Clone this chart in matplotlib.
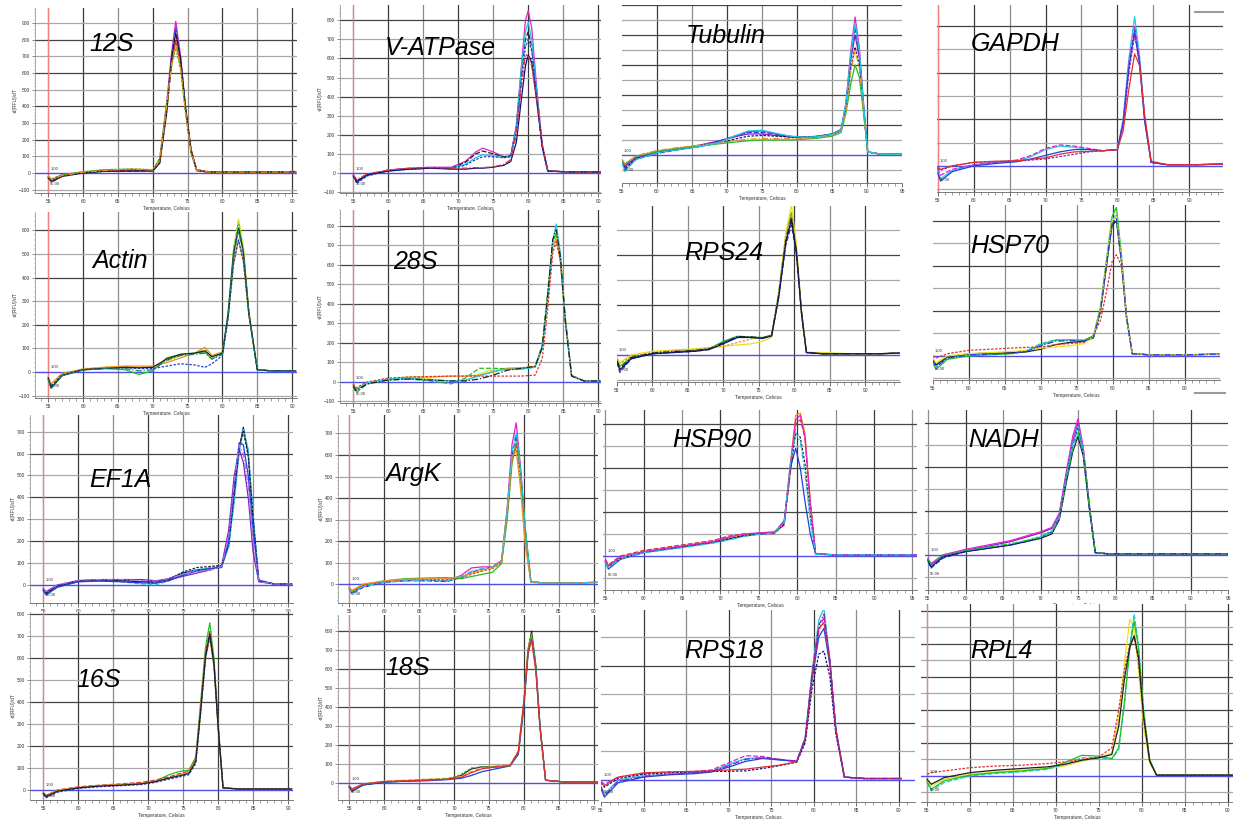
import matplotlib
matplotlib.use('Agg')
import matplotlib.pyplot as plt
from matplotlib.lines import Line2D
from matplotlib.ticker import MultipleLocator

plt.rcParams['font.family'] = ['Liberation Sans', 'DejaVu Sans']

# ---------------- data (-dF/dT vs temperature) ----------------
s12_temp = [55, 55.5, 57, 60, 63, 67, 70, 71, 72, 72.7, 73.3, 74, 74.7, 75.5, 76.3, 78, 82, 86, 90.5]
s12_curves = [
    [-20, -40, -10, 5, 15, 15, 15, 80, 420, 720, 910, 700, 380, 120, 15, 5, 5, 5, 8],
    [-30, -55, -20, 0, 10, 10, 12, 60, 380, 700, 870, 690, 390, 130, 20, 5, 5, 5, 8],
    [-25, -45, -15, 5, 18, 20, 18, 70, 400, 650, 790, 640, 380, 140, 20, 8, 5, 5, 8],
    [-20, -35, -10, 8, 20, 25, 20, 90, 420, 640, 750, 620, 360, 120, 15, 5, 5, 5, 10],
    [-30, -50, -20, 0, 10, 12, 12, 60, 360, 680, 840, 680, 400, 140, 15, 5, 5, 5, 8],
    [-20, -40, -15, 5, 15, 25, 18, 75, 400, 650, 770, 630, 370, 130, 18, 5, 5, 5, 8],
]

vat_temp = [55, 55.5, 57, 60, 63, 66, 69, 71, 72.5, 73.5, 75, 76.5, 77.5, 78.3, 79, 79.6, 80, 80.5, 81.2, 82, 82.8, 86, 90.5]
vat_curves = [
    [-10, -50, -10, 15, 25, 30, 30, 60, 110, 130, 110, 85, 90, 250, 550, 800, 850, 760, 450, 150, 10, 5, 5],
    [-15, -40, -10, 15, 22, 25, 25, 55, 100, 115, 100, 85, 90, 240, 520, 700, 740, 660, 420, 140, 10, 5, 5],
    [-20, -45, -15, 15, 20, 25, 25, 45, 80, 95, 90, 80, 85, 240, 540, 740, 790, 700, 430, 140, 10, 5, 5],
    [-20, -55, -15, 10, 20, 25, 25, 40, 70, 85, 85, 80, 85, 220, 480, 660, 700, 640, 400, 130, 10, 5, 5],
    [-15, -45, -10, 10, 20, 25, 20, 20, 25, 25, 30, 40, 60, 160, 380, 560, 620, 580, 380, 140, 10, 5, 5],
    [-10, -35, -5, 15, 25, 28, 25, 25, 28, 28, 32, 45, 70, 200, 450, 620, 610, 560, 390, 150, 12, 5, 5],
]

tub_temp = [55, 55.4, 57, 60, 63, 66, 69, 71, 73, 75, 77, 79, 81, 83, 85, 86.3, 87, 87.7, 88.3, 88.9, 89.5, 90.1, 92, 95]
tub_curves = [
    [-40, -80, -20, 20, 40, 60, 90, 120, 155, 160, 140, 120, 115, 120, 135, 160, 350, 700, 920, 720, 350, 20, 5, 5],
    [-50, -100, -30, 10, 35, 60, 95, 125, 150, 150, 140, 125, 120, 125, 140, 170, 340, 660, 850, 680, 330, 20, 5, 5],
    [-40, -70, -20, 15, 40, 65, 95, 120, 140, 140, 130, 120, 118, 125, 140, 170, 330, 640, 800, 650, 320, 20, 5, 5],
    [-45, -90, -25, 15, 35, 55, 80, 105, 125, 130, 125, 120, 118, 122, 138, 165, 320, 580, 720, 600, 300, 20, 5, 5],
    [-30, -60, -10, 25, 45, 60, 75, 85, 95, 100, 100, 100, 105, 112, 125, 150, 280, 480, 600, 520, 280, 20, 5, 5],
    [-30, -60, -5, 30, 50, 65, 80, 95, 105, 110, 110, 108, 110, 118, 132, 160, 300, 560, 700, 580, 300, 20, 5, 5],
    [-50, -110, -30, 15, 35, 55, 85, 125, 160, 165, 145, 125, 118, 122, 138, 170, 350, 680, 880, 700, 340, 20, 5, 5],
]

gapdh_temp = [55, 55.4, 57, 60, 63, 66, 68, 70, 72, 74, 76, 78, 80, 80.8, 81.6, 82.4, 83.1, 83.8, 84.7, 87, 91, 94.7]
gapdh_curves = [
    [-20, -55, -20, 5, 15, 20, 40, 70, 85, 80, 70, 65, 70, 200, 460, 640, 470, 200, 15, 5, 5, 8],
    [-10, -40, -15, 5, 15, 25, 45, 75, 90, 85, 75, 65, 70, 190, 440, 600, 450, 200, 15, 5, 5, 8],
    [-30, -65, -25, 0, 10, 18, 30, 45, 60, 70, 70, 65, 70, 180, 420, 580, 430, 190, 15, 5, 5, 8],
    [-10, -20, 0, 15, 18, 20, 25, 30, 40, 50, 60, 65, 70, 170, 400, 560, 440, 200, 15, 5, 5, 8],
    [-5, -15, 0, 15, 20, 22, 28, 35, 50, 60, 62, 65, 70, 150, 330, 480, 430, 220, 20, 5, 5, 8],
]

actin_temp = [55, 55.4, 57, 60, 63, 66, 68, 70, 72, 74, 76, 77.5, 78.5, 80, 80.8, 81.6, 82.3, 83, 83.8, 85, 87, 90.5]
actin_curves = [
    [-30, -70, -15, 10, 15, 10, -10, 5, 60, 75, 80, 85, 55, 80, 250, 520, 640, 520, 250, 10, 5, 5],
    [-25, -60, -10, 15, 20, 25, 20, 20, 45, 70, 80, 95, 60, 80, 240, 500, 650, 540, 260, 10, 5, 5],
    [-20, -50, -5, 12, 20, 25, 25, 25, 40, 60, 80, 105, 70, 85, 230, 460, 560, 470, 240, 10, 5, 5],
    [-30, -60, -10, 10, 15, 18, 15, 15, 25, 35, 30, 20, 35, 70, 220, 460, 560, 470, 240, 10, 5, 5],
    [-25, -65, -15, 10, 15, 20, 18, 20, 55, 75, 80, 90, 65, 80, 240, 500, 610, 510, 250, 10, 5, 5],
    [-30, -70, -15, 8, 15, 15, 5, 10, 50, 70, 75, 80, 55, 75, 235, 490, 600, 500, 245, 10, 5, 5],
]

s28_temp = [55, 55.4, 57, 60, 63, 66, 69, 71, 73, 75, 77, 79, 81, 82, 82.8, 83.5, 84, 84.6, 85.3, 86.2, 88, 90.5]
s28_curves = [
    [-15, -35, -5, 15, 20, 15, 5, 5, 40, 65, 70, 70, 80, 180, 450, 720, 800, 650, 330, 30, 5, 5],
    [-25, -55, -10, 10, 15, 5, -10, 20, 70, 70, 68, 70, 80, 190, 470, 720, 760, 620, 310, 30, 5, 5],
    [-15, -40, -5, 15, 25, 25, 30, 30, 35, 50, 70, 72, 80, 175, 430, 690, 740, 620, 320, 30, 5, 5],
    [-10, -30, 0, 20, 25, 28, 30, 30, 30, 30, 30, 30, 35, 120, 380, 660, 720, 620, 330, 35, 5, 5],
    [-20, -40, -5, 15, 20, 10, 5, 10, 30, 55, 65, 65, 75, 170, 440, 720, 810, 660, 320, 30, 5, 5],
    [-20, -45, -10, 10, 15, 10, 5, 5, 15, 35, 60, 70, 80, 180, 450, 730, 780, 640, 310, 30, 5, 5],
]

rps24_temp = [55, 55.4, 57, 60, 63, 66, 68, 70, 72, 74, 75.5, 76.8, 77.8, 78.8, 79.6, 80.3, 81, 81.7, 84, 88, 92, 95]
rps24_curves = [
    [-20, -45, -10, 5, 12, 18, 25, 55, 75, 72, 70, 80, 250, 480, 570, 420, 180, 10, 5, 5, 5, 8],
    [-30, -70, -15, 5, 10, 15, 22, 50, 72, 70, 68, 78, 230, 440, 520, 400, 170, 10, 5, 5, 5, 8],
    [-10, -30, 0, 15, 20, 25, 30, 35, 40, 45, 55, 70, 240, 490, 600, 440, 180, 10, 10, 5, 5, 8],
    [-15, -35, -5, 10, 18, 22, 28, 35, 50, 65, 68, 78, 240, 470, 560, 420, 175, 12, 5, 5, 5, 8],
    [-25, -60, -15, 5, 10, 15, 22, 45, 70, 70, 66, 76, 230, 450, 540, 410, 170, 10, 5, 5, 5, 8],
    [-25, -55, -10, 8, 14, 18, 25, 48, 74, 72, 68, 78, 240, 460, 550, 415, 175, 10, 5, 5, 5, 8],
]

hsp70_temp = [55, 55.4, 57, 60, 63, 66, 68, 70, 72, 74, 76, 77.3, 78.3, 79.2, 79.9, 80.5, 81.2, 81.9, 82.7, 85, 90, 95]
hsp70_curves = [
    [-30, -60, -15, 0, 5, 10, 20, 50, 70, 72, 70, 90, 220, 450, 620, 660, 450, 180, 10, 5, 5, 8],
    [-20, -45, -10, 5, 10, 15, 25, 55, 72, 72, 68, 85, 210, 430, 600, 630, 430, 170, 10, 5, 5, 8],
    [-15, -40, -5, 10, 12, 15, 18, 30, 50, 60, 65, 80, 200, 420, 580, 600, 420, 170, 10, 5, 5, 8],
    [0, -10, 10, 25, 30, 35, 38, 40, 50, 55, 60, 90, 160, 300, 420, 450, 400, 180, 12, 5, 5, 8],
    [-10, -30, 0, 10, 15, 20, 25, 35, 40, 45, 55, 85, 210, 440, 600, 620, 430, 170, 10, 5, 5, 8],
    [-20, -50, -10, 5, 8, 12, 20, 45, 65, 68, 66, 82, 205, 430, 590, 610, 420, 170, 10, 5, 5, 8],
]

ef1a_temp = [55, 55.4, 57, 60, 63, 66, 69, 71, 73, 75, 77, 79, 80.5, 81.5, 82.3, 83, 83.6, 84.3, 85, 85.8, 88, 90.5]
ef1a_curves = [
    [-20, -40, -5, 20, 22, 20, 15, 15, 30, 55, 70, 75, 85, 180, 400, 620, 720, 600, 300, 20, 5, 5],
    [-25, -45, -10, 15, 20, 15, 5, 0, 20, 50, 70, 80, 85, 170, 380, 600, 710, 620, 320, 25, 5, 5],
    [-15, -30, 0, 20, 25, 25, 25, 20, 25, 40, 55, 70, 90, 250, 500, 620, 560, 400, 150, 15, 5, 5],
    [-20, -35, -5, 18, 20, 20, 15, 10, 25, 60, 80, 85, 90, 190, 420, 630, 700, 590, 300, 20, 5, 5],
    [-25, -45, -10, 15, 18, 15, 10, 8, 20, 45, 65, 75, 80, 200, 450, 650, 640, 500, 250, 20, 5, 5],
    [-15, -30, 0, 22, 25, 25, 20, 18, 30, 50, 60, 70, 85, 220, 470, 640, 600, 450, 200, 15, 5, 5],
]

argk_temp = [55, 55.4, 57, 60, 63, 66, 69, 71, 72.5, 74, 75.5, 76.8, 77.6, 78.3, 78.9, 79.5, 80.2, 81, 83, 87, 90.5]
argk_curves = [
    [-20, -40, -10, 10, 18, 18, 15, 40, 75, 80, 80, 110, 350, 650, 750, 550, 250, 10, 5, 5, 8],
    [-25, -45, -15, 8, 15, 15, 12, 30, 55, 70, 78, 105, 330, 600, 690, 520, 240, 10, 5, 5, 8],
    [-15, -35, -5, 15, 25, 28, 30, 25, 35, 45, 55, 95, 300, 560, 660, 540, 260, 12, 5, 5, 8],
    [-20, -35, -5, 12, 20, 22, 20, 30, 45, 60, 72, 100, 320, 580, 640, 480, 200, 8, 5, 5, 8],
    [-15, -30, 0, 15, 22, 25, 25, 35, 50, 65, 75, 105, 340, 590, 620, 450, 180, 8, 5, 5, 8],
    [-25, -40, -10, 10, 15, 18, 15, 35, 60, 72, 80, 110, 340, 620, 710, 540, 250, 10, 5, 5, 8],
]

hsp90_temp = [55, 55.4, 57, 60, 63, 66, 69, 71, 73, 75, 77, 78.3, 79.1, 79.8, 80.4, 81, 81.7, 82.4, 85, 90, 95.5]
hsp90_curves = [
    [-20, -45, -5, 20, 35, 50, 65, 80, 95, 105, 110, 150, 420, 640, 650, 560, 250, 10, 5, 5, 5],
    [-15, -40, 0, 25, 40, 55, 70, 90, 100, 100, 105, 140, 380, 600, 620, 540, 240, 10, 5, 5, 5],
    [-30, -60, -15, 15, 30, 45, 60, 75, 90, 100, 105, 160, 400, 490, 400, 250, 100, 8, 5, 5, 5],
    [-25, -50, -10, 18, 32, 48, 62, 78, 92, 100, 102, 145, 390, 560, 540, 420, 180, 8, 5, 5, 5],
    [-20, -45, -5, 20, 35, 50, 65, 85, 100, 105, 108, 150, 410, 620, 640, 540, 240, 10, 5, 5, 5],
    [-30, -55, -10, 15, 28, 42, 58, 72, 88, 98, 104, 155, 420, 560, 520, 380, 160, 8, 5, 5, 5],
]

nadh_temp = [55, 55.4, 57, 60, 63, 66, 68, 70, 71.5, 72.5, 73.5, 74.3, 75, 75.7, 76.5, 77.3, 79, 85, 90, 95]
nadh_curves = [
    [-20, -45, -5, 20, 40, 60, 80, 100, 120, 180, 380, 520, 600, 480, 230, 10, 5, 5, 5, 5],
    [-30, -60, -15, 15, 30, 45, 60, 80, 105, 170, 360, 500, 580, 470, 220, 10, 5, 5, 5, 5],
    [-15, -40, 0, 25, 45, 65, 85, 105, 125, 190, 390, 540, 620, 490, 230, 10, 5, 5, 5, 5],
    [-25, -50, -10, 18, 35, 50, 65, 85, 110, 175, 370, 510, 590, 480, 225, 10, 5, 5, 5, 5],
    [-25, -55, -10, 15, 30, 45, 60, 75, 95, 160, 340, 470, 540, 450, 215, 10, 5, 5, 5, 5],
    [-20, -40, 0, 20, 35, 50, 65, 80, 100, 165, 350, 480, 560, 460, 220, 10, 5, 5, 5, 5],
]

s16_temp = [55, 55.4, 57, 60, 63, 66, 69, 71, 73, 74.5, 75.8, 76.8, 77.5, 78.2, 78.8, 79.4, 80, 80.7, 83, 87, 90.5]
s16_curves = [
    [-15, -30, -5, 10, 20, 25, 30, 40, 70, 85, 90, 150, 400, 650, 760, 600, 300, 10, 5, 5, 5],
    [-10, -25, 0, 15, 22, 28, 35, 45, 60, 75, 85, 140, 380, 620, 720, 580, 290, 10, 5, 5, 5],
    [-10, -25, 0, 12, 20, 25, 30, 40, 55, 70, 80, 135, 370, 600, 690, 560, 280, 10, 5, 5, 5],
    [-20, -35, -10, 8, 15, 20, 25, 35, 50, 60, 70, 120, 350, 600, 700, 570, 290, 10, 5, 5, 5],
    [-15, -30, -5, 10, 18, 22, 28, 38, 55, 65, 75, 130, 360, 610, 710, 575, 285, 10, 5, 5, 5],
]

s18_temp = [55, 55.4, 57, 60, 63, 66, 69, 71, 72.5, 74, 76, 78, 79.2, 80, 80.6, 81.1, 81.7, 82.3, 83.1, 86, 90.5]
s18_curves = [
    [-20, -40, -10, 5, 10, 15, 20, 40, 75, 85, 85, 90, 160, 420, 700, 800, 620, 300, 15, 5, 5],
    [-15, -35, -5, 10, 15, 20, 25, 35, 60, 80, 90, 95, 170, 440, 720, 780, 600, 290, 15, 5, 5],
    [-20, -45, -10, 5, 10, 12, 18, 25, 40, 60, 75, 90, 150, 400, 680, 760, 610, 300, 15, 5, 5],
    [-15, -35, -5, 8, 12, 18, 22, 45, 80, 85, 85, 90, 160, 420, 700, 790, 620, 300, 15, 5, 5],
    [-15, -30, -5, 8, 12, 15, 20, 30, 55, 75, 85, 92, 165, 430, 690, 750, 590, 290, 15, 5, 5],
]

rps18_temp = [55, 55.4, 57, 60, 63, 66, 68, 70, 72, 74, 76, 78, 79, 79.8, 80.6, 81.2, 81.9, 82.6, 83.6, 86, 90.3]
rps18_curves = [
    [-20, -50, 0, 15, 20, 25, 30, 55, 75, 78, 70, 65, 150, 380, 560, 600, 420, 180, 10, 5, 5],
    [-5, -15, 10, 22, 28, 30, 35, 60, 85, 82, 72, 65, 140, 360, 520, 570, 420, 180, 10, 5, 5],
    [-30, -60, -10, 10, 18, 22, 28, 45, 65, 75, 70, 65, 140, 350, 500, 530, 400, 170, 10, 5, 5],
    [-10, -25, 5, 20, 25, 28, 30, 30, 32, 40, 50, 62, 130, 320, 440, 450, 360, 160, 10, 5, 5],
    [-10, -20, 10, 25, 28, 30, 32, 35, 38, 45, 52, 64, 145, 360, 530, 550, 410, 175, 10, 5, 5],
    [-25, -55, -5, 12, 20, 25, 30, 50, 72, 78, 72, 66, 145, 370, 540, 580, 415, 175, 10, 5, 5],
]

rpl4_temp = [55, 55.5, 57, 60, 63, 66, 69, 71, 73, 75, 76.5, 77.3, 78, 78.6, 79.1, 79.6, 80.2, 80.9, 81.7, 84, 90.6]
rpl4_curves = [
    [-30, -60, -20, 10, 25, 35, 45, 60, 90, 110, 140, 350, 700, 950, 900, 650, 300, 80, 5, 5, 5],
    [-40, -90, -40, 0, 15, 25, 40, 70, 110, 110, 100, 160, 450, 800, 980, 800, 400, 100, 5, 5, 5],
    [-35, -80, -30, 5, 20, 30, 45, 80, 125, 120, 105, 170, 460, 780, 940, 780, 390, 100, 5, 5, 5],
    [10, 20, 30, 50, 60, 65, 75, 85, 100, 115, 170, 400, 650, 800, 840, 700, 350, 90, 5, 5, 5],
    [-20, -50, -10, 20, 35, 45, 55, 70, 95, 110, 130, 300, 600, 780, 850, 720, 360, 90, 5, 5, 5],
]

# ---------------- layout (pixel boxes in the 1233x822 image) ----------------
W, H = 1233, 822
fig = plt.figure(figsize=(W / 100, H / 100), dpi=100)
fig.patch.set_facecolor('white')

MAG, BLU, RED, GRN, BLK, ORG, CYN, PUR, NAV, YEL, TEAL, VIO = (
    '#e020d0', '#2040e0', '#e03030', '#20c020', '#202020', '#f09020',
    '#20c8e0', '#8020c0', '#101080', '#e8e020', '#108080', '#b070e0')

# name, temp, curves, colours, box(x0,y0,x1,y1), xlim, ylim, label centre, y-axis shown, red 55 line
panels = [
    ('12S', s12_temp, s12_curves, [MAG, BLU, RED, GRN, BLK, ORG],
     (35, 8, 297, 193), (53.1, 90.7), (-120, 990), (112, 44), True, True),
    ('V-ATPase', vat_temp, vat_curves, [MAG, BLK, CYN, BLU, NAV, RED],
     (340, 5, 601, 193), (53.1, 90.4), (-105, 880), (440, 48), True, True),
    ('Tubulin', tub_temp, tub_curves, [MAG, BLU, PUR, NAV, GRN, ORG, CYN],
     (622, 5, 902, 183), (55, 95), (-187, 1000), (726, 36), False, False),
    ('GAPDH', gapdh_temp, gapdh_curves, [CYN, MAG, BLU, PUR, RED],
     (937, 5, 1223, 192), (54.9, 94.7), (-112, 690), (1015, 44), False, True),
    ('Actin', actin_temp, actin_curves, [GRN, YEL, ORG, BLU, BLK, TEAL],
     (35, 212, 297, 398), (53.1, 90.7), (-110, 678), (120, 261), True, True),
    ('28S', s28_temp, s28_curves, [YEL, GRN, ORG, RED, CYN, BLK],
     (340, 210, 601, 403), (53.1, 90.4), (-108, 882), (415, 262), True, True),
    ('RPS24', rps24_temp, rps24_curves, [GRN, BLU, YEL, ORG, NAV, BLK],
     (617, 206, 900, 382), (55, 94.9), (-108, 596), (724, 253), False, False),
    ('HSP70', hsp70_temp, hsp70_curves, [GRN, CYN, BLK, RED, YEL, BLU],
     (933, 205, 1220, 380), (55, 94.9), (-107, 671), (1010, 246), False, False),
    ('EF1A', ef1a_temp, ef1a_curves, [NAV, CYN, PUR, BLK, BLU, VIO],
     (30, 415, 293, 603), (53.1, 90.7), (-82, 776), (120, 480), True, True),
    ('ArgK', argk_temp, argk_curves, [MAG, BLU, GRN, RED, ORG, CYN],
     (338, 415, 598, 603), (53.4, 90.6), (-88, 786), (413, 474), True, True),
    ('HSP90', hsp90_temp, hsp90_curves, [ORG, RED, BLU, BLK, MAG, CYN],
     (603, 410, 917, 590), (54.7, 95.6), (-155, 664), (712, 440), False, False),
    ('NADH', nadh_temp, nadh_curves, [PUR, BLU, MAG, CYN, NAV, GRN],
     (925, 410, 1228, 590), (54.6, 95), (-160, 660), (1004, 440), False, False),
    ('16S', s16_temp, s16_curves, [GRN, RED, ORG, BLU, BLK],
     (30, 612, 293, 800), (53.1, 90.7), (-45, 809), (99, 680), True, True),
    ('18S', s18_temp, s18_curves, [BLK, ORG, BLU, GRN, RED],
     (338, 615, 598, 800), (53.4, 90.6), (-89, 884), (408, 668), True, True),
    ('RPS18', rps18_temp, rps18_curves, [CYN, MAG, BLU, NAV, RED, PUR],
     (601, 610, 915, 802), (55, 91.9), (-77, 594), (724, 651), False, False),
    ('RPL4', rpl4_temp, rpl4_curves, [YEL, CYN, GRN, RED, BLK],
     (921, 604, 1233, 802), (54.3, 90.6), (-158, 1042), (1001, 651), False, True),
]

styles = ['-', (0, (4, 1.5)), '-', (0, (2, 1.2)), '-', (0, (5, 1.5, 1, 1.5)), '-']

for name, temp, curves, colors, box, xlim, ylim, lab, yaxis, redline in panels:
    x0, y0, x1, y1 = box
    ax = fig.add_axes([x0 / W, 1 - y1 / H, (x1 - x0) / W, (y1 - y0) / H])
    ax.set_xlim(xlim)
    ax.set_ylim(ylim)
    ax.set_facecolor('white')

    # grid: vertical every 5 C, horizontal every 100
    for t in range(55, 100, 5):
        if xlim[0] < t < xlim[1]:
            ax.axvline(t, color='#3a3a3a' if t % 10 == 0 else '#8c8c8c', lw=0.9, zorder=0)
    for v in range(-100, int(ylim[1]) + 1, 100):
        if v == 0:
            continue
        ax.axhline(v, color='#454545' if (v // 100) % 2 == 0 else '#a8a8a8', lw=0.9, zorder=0)
    if redline:
        ax.axvline(55, color='#f08080', lw=0.9, zorder=1)
    ax.axhline(0, color='#5050e8', lw=1.0, zorder=1)

    for i, (ys, c) in enumerate(zip(curves, colors)):
        ax.plot(temp, ys, color=c, lw=0.9, ls=styles[i % len(styles)], zorder=2)

    # axes decoration of the instrument software
    for s in ['top', 'right']:
        ax.spines[s].set_visible(False)
    ax.spines['bottom'].set_color('#666666')
    ax.spines['bottom'].set_linewidth(0.6)
    ax.xaxis.set_major_locator(MultipleLocator(5))
    ax.xaxis.set_minor_locator(MultipleLocator(1))
    ax.tick_params(axis='x', which='major', length=3, width=0.5, labelsize=3.5,
                   colors='#333333', pad=1.5)
    ax.tick_params(axis='x', which='minor', length=2, width=0.4, colors='#555555')
    ax.set_xlabel('Temperature, Celsius', fontsize=3.5, labelpad=1, color='#333333')
    if yaxis:
        ax.spines['left'].set_color('#888888')
        ax.spines['left'].set_linewidth(0.5)
        ax.yaxis.set_major_locator(MultipleLocator(100))
        ax.yaxis.set_minor_locator(MultipleLocator(20))
        ax.tick_params(axis='y', which='major', length=2, width=0.4, labelsize=3.5,
                       colors='#333333', pad=1.5)
        ax.tick_params(axis='y', which='minor', length=1, width=0.3, colors='#777777')
        ax.set_ylabel('-d(RFU)/dT', fontsize=3.5, labelpad=1, color='#333333')
    else:
        ax.spines['left'].set_visible(False)
        ax.set_yticks([])
    ax.text(55.3, 12, '1.00', fontsize=3, color='#333333', ha='left', va='bottom')
    ax.text(55.3, ylim[0] * 0.55, '55.00', fontsize=3, color='#333333', ha='left', va='center')

    fig.text(lab[0] / W, 1 - lab[1] / H, name, fontsize=18, style='italic',
             ha='center', va='center', color='black')

# small grey bars left over from the cropped screenshots
for bx0, bx1, by in [(1195, 1223, 12), (1195, 1225, 393)]:
    fig.add_artist(Line2D([bx0 / W, bx1 / W], [1 - by / H, 1 - by / H],
                          color='#9a9a9a', lw=1.5))

fig.savefig('out.png', dpi=100, facecolor='white')
